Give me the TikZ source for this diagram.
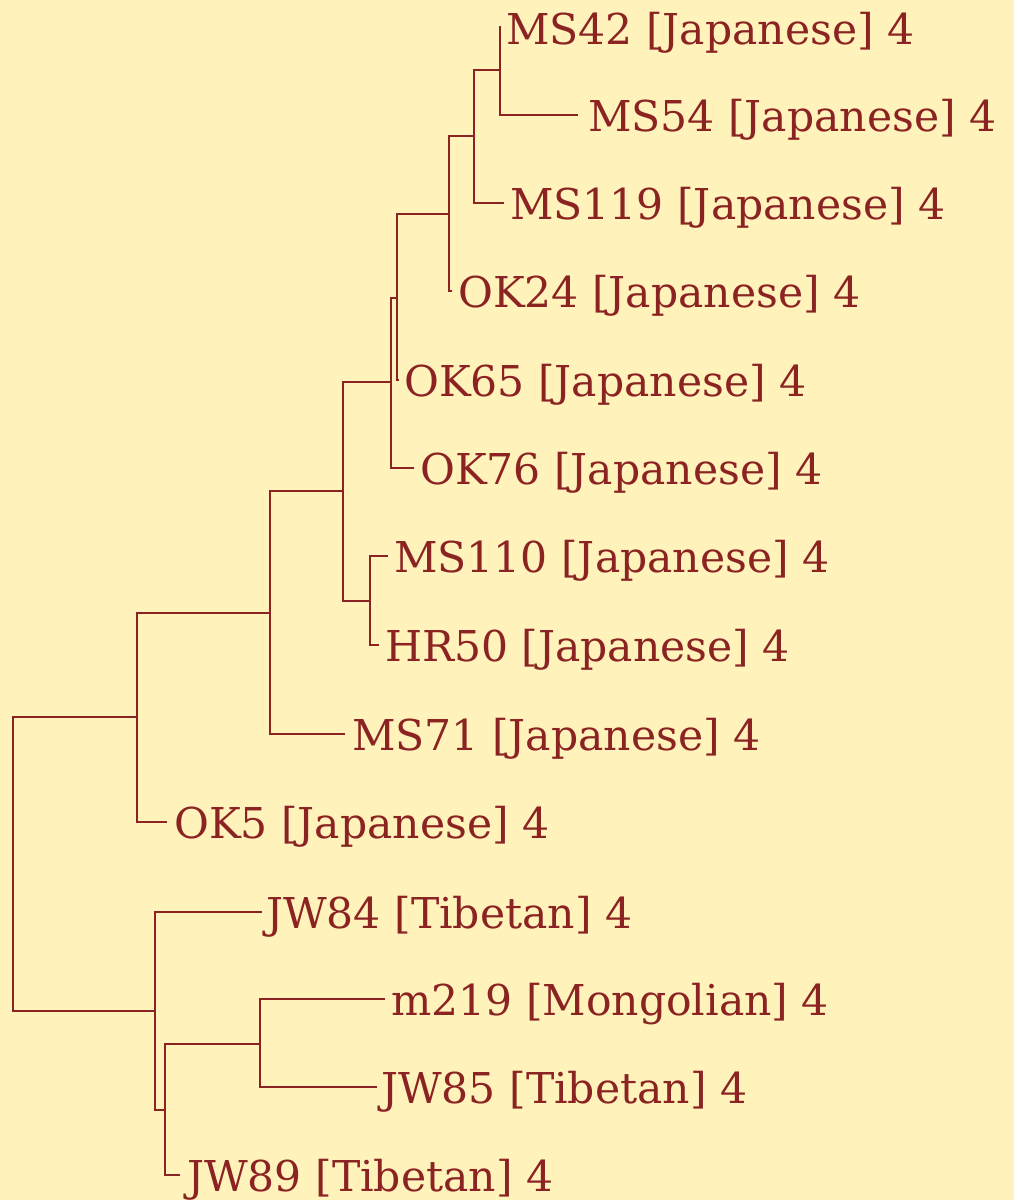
\documentclass[tikz,border=0pt]{standalone}
\usepackage{fontspec}
\setmainfont{DejaVu Serif}
\definecolor{bg}{HTML}{FFF2BB}
\definecolor{ink}{HTML}{8B2323}
\begin{document}
\begin{tikzpicture}[x=1bp,y=-1bp,
  branch/.style={draw=ink,line width=1.6bp},
  leaf/.style={anchor=base west,inner sep=0pt,text=ink,font=\fontsize{42.5bp}{50bp}\selectfont,yshift=-16bp}]
\fill[bg] (0,0) rectangle (1014,1200);
\useasboundingbox (0,0) rectangle (1014,1200);
% tips
\coordinate (tMSa) at (501,27);
\coordinate (tMSb) at (578,115);
\coordinate (tMSc) at (504,203);
\coordinate (tOKa) at (452,291);
\coordinate (tOKb) at (399,380);
\coordinate (tOKc) at (414,468);
\coordinate (tMSd) at (388,556);
\coordinate (tHR) at (379,645);
\coordinate (tMSe) at (345,734);
\coordinate (tOKd) at (167,822);
\coordinate (tJWa) at (262,912);
\coordinate (tMg) at (385,999);
\coordinate (tJWb) at (377,1087);
\coordinate (tJWc) at (180,1175);
% internal
\coordinate (nA) at (500,70);
\coordinate (nB) at (474,136);
\coordinate (nC) at (449,214);
\coordinate (nD) at (397,298);
\coordinate (nE) at (391,382);
\coordinate (nG) at (370,601);
\coordinate (nF) at (343,491);
\coordinate (nH) at (270,613);
\coordinate (nI) at (137,717);
\coordinate (nL) at (260,1044);
\coordinate (nK) at (165,1110);
\coordinate (nJ) at (155,1011);
\coordinate (nR) at (13,864);
% labels
\node[leaf] (lMSa) at (506,28) {MS42 [Japanese] 4};
\node[leaf] (lMSb) at (588,115) {MS54 [Japanese] 4};
\node[leaf] (lMSc) at (510,203) {MS119 [Japanese] 4};
\node[leaf] (lOKa) at (458,291) {OK24 [Japanese] 4};
\node[leaf] (lOKb) at (404,380) {OK65 [Japanese] 4};
\node[leaf] (lOKc) at (420,468) {OK76 [Japanese] 4};
\node[leaf] (lMSd) at (394,556) {MS110 [Japanese] 4};
\node[leaf] (lHR) at (385,645) {HR50 [Japanese] 4};
\node[leaf] (lMSe) at (352,734) {MS71 [Japanese] 4};
\node[leaf] (lOKd) at (174,822) {OK5 [Japanese] 4};
\node[leaf] (lJWa) at (266,912) {JW84 [Tibetan] 4};
\node[leaf] (lMg) at (391,999) {m219 [Mongolian] 4};
\node[leaf] (lJWb) at (381,1087) {JW85 [Tibetan] 4};
\node[leaf] (lJWc) at (187,1175) {JW89 [Tibetan] 4};
% branches
\draw[branch] (nA) |- (tMSa);
\draw[branch] (nA) |- (tMSb);
\draw[branch] (nB) |- (nA);
\draw[branch] (nB) |- (tMSc);
\draw[branch] (nC) |- (nB);
\draw[branch] (nC) |- (tOKa);
\draw[branch] (nD) |- (nC);
\draw[branch] (nD) |- (tOKb);
\draw[branch] (nE) |- (nD);
\draw[branch] (nE) |- (tOKc);
\draw[branch] (nG) |- (tMSd);
\draw[branch] (nG) |- (tHR);
\draw[branch] (nF) |- (nE);
\draw[branch] (nF) |- (nG);
\draw[branch] (nH) |- (nF);
\draw[branch] (nH) |- (tMSe);
\draw[branch] (nI) |- (nH);
\draw[branch] (nI) |- (tOKd);
\draw[branch] (nL) |- (tMg);
\draw[branch] (nL) |- (tJWb);
\draw[branch] (nK) |- (nL);
\draw[branch] (nK) |- (tJWc);
\draw[branch] (nJ) |- (tJWa);
\draw[branch] (nJ) |- (nK);
\draw[branch] (nR) |- (nI);
\draw[branch] (nR) |- (nJ);
\end{tikzpicture}
\end{document}
